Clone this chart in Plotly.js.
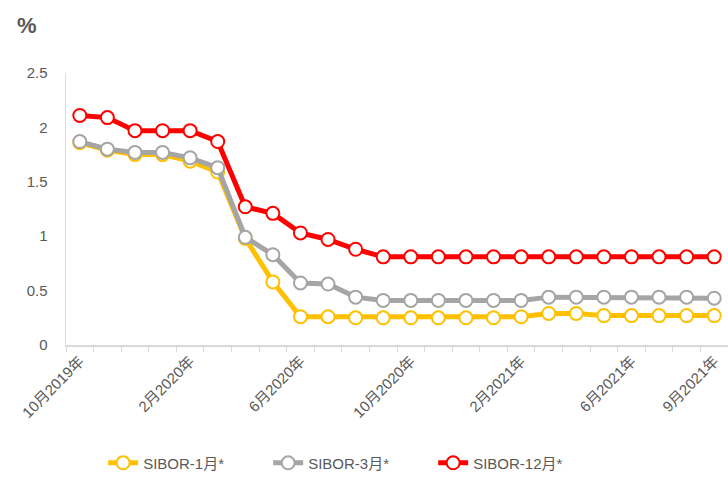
<!DOCTYPE html>
<html>
<head>
<meta charset="utf-8">
<script src="https://cdn.plot.ly/plotly-3.0.1.min.js"></script>
<style>html,body{margin:0;padding:0;background:#fff;}#chart{width:728px;height:480px;}</style>
</head>
<body>
<div id="chart"></div>
<script>
const months = ["10月2019年","11月2019年","12月2019年","1月2020年","2月2020年","3月2020年","4月2020年","5月2020年","6月2020年","7月2020年","8月2020年","9月2020年","10月2020年","11月2020年","12月2020年","1月2021年","2月2021年","3月2021年","4月2021年","5月2021年","6月2021年","7月2021年","8月2021年","9月2021年"];
const shownLabels = ["10月2019年","2月2020年","6月2020年","10月2020年","2月2021年","6月2021年","9月2021年"];
const sibor1 = [1.86,1.79,1.75,1.75,1.69,1.59,0.98,0.58,0.26,0.26,0.25,0.25,0.25,0.25,0.25,0.25,0.26,0.29,0.29,0.27,0.27,0.27,0.27,0.27];
const sibor3 = [1.87,1.80,1.77,1.77,1.72,1.63,0.99,0.83,0.57,0.56,0.44,0.41,0.41,0.41,0.41,0.41,0.41,0.44,0.44,0.44,0.44,0.44,0.44,0.43];
const sibor12 = [2.11,2.09,1.97,1.97,1.97,1.87,1.27,1.21,1.03,0.97,0.88,0.81,0.81,0.81,0.81,0.81,0.81,0.81,0.81,0.81,0.81,0.81,0.81,0.81];
const names = ["SIBOR-1月*","SIBOR-3月*","SIBOR-12月*"];
const colors = ["#FFC000","#A5A5A5","#FF0000"];
const series = [sibor1, sibor3, sibor12];

const font = "Liberation Sans, Noto Sans CJK SC, sans-serif";
const traces = series.map((s,i)=>({
  x: months, y: s, name: names[i], type: "scatter", mode: "lines+markers",
  line: {color: colors[i], width: 5},
  marker: {symbol: "circle", size: 13, color: "#FFFFFF", line: {color: colors[i], width: 2}},
  cliponaxis: false
}));
const ticktext = months.map(m => shownLabels.includes(m) ? m : "");
const layout = {
  width: 728, height: 480,
  margin: {l: 66, r: 0, t: 73, b: 135},
  paper_bgcolor: "#fff", plot_bgcolor: "#fff",
  font: {family: font, color: "#595959", size: 15},
  title: {text: "<b>%</b>", x: 17/728, xanchor: "left", xref: "container", y: 1-25/480, yanchor: "middle", yref: "container", font: {size: 22, color: "#595959", family: font}},
  showlegend: true,
  legend: {orientation: "h", x: 0.43, xanchor: "center", y: -0.434, yanchor: "middle", font: {size: 15, color: "#595959", family: font}, entrywidth: 120, tracegroupgap: 0},
  xaxis: {
    type: "category", categoryorder: "array", categoryarray: months,
    tickmode: "array", tickvals: months, ticktext: ticktext,
    tickson: "boundaries", ticks: "outside", ticklen: 5, tickcolor: "#D9D9D9", tickwidth: 1,
    tickangle: -45, showgrid: false, zeroline: false,
    showline: true, linecolor: "#D9D9D9", linewidth: 1.5,
    tickfont: {size: 15, color: "#595959", family: font},
    range: [-0.5, 23.5]
  },
  yaxis: {
    range: [0, 2.5], tickvals: [0,0.5,1,1.5,2,2.5], ticktext: ["0","0.5","1","1.5","2","2.5"],
    showgrid: false, zeroline: false, showline: true, linecolor: "#D6DFF0", linewidth: 1.5,
    ticks: "", ticklabelstandoff: 14,
    tickfont: {size: 15, color: "#595959", family: font}
  }
};
Plotly.newPlot("chart", traces, layout, {displayModeBar: false, staticPlot: true});
</script>
</body>
</html>
